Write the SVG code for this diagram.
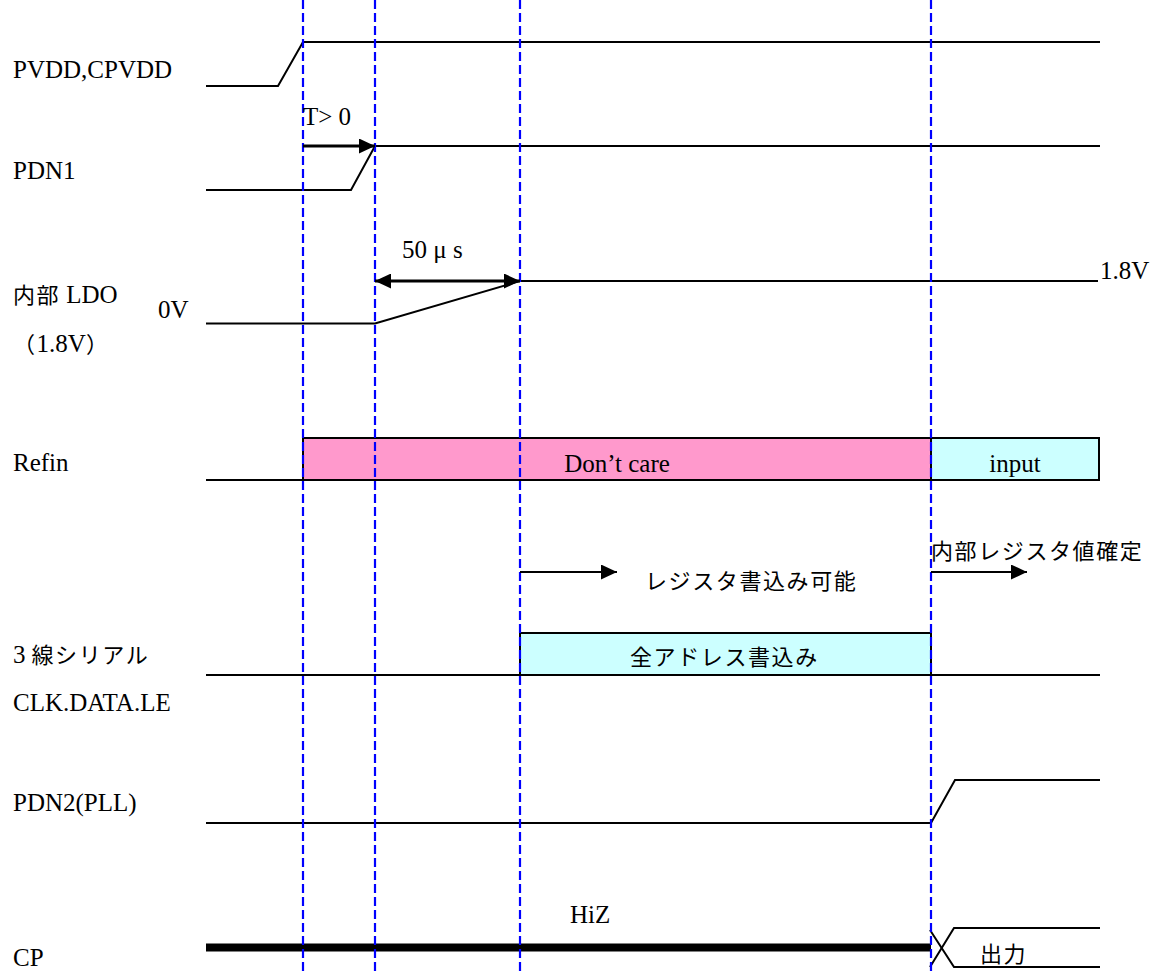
<svg xmlns="http://www.w3.org/2000/svg" width="1155" height="973" viewBox="0 0 1155 973">
<style>
.t{font-family:"Liberation Serif","Noto Sans CJK JP",serif;font-size:25px;fill:#000}
.j{font-family:"Noto Sans CJK JP",sans-serif;font-size:22px;letter-spacing:1.6px;fill:#000}
.w{fill:none;stroke:#000;stroke-width:2}
.a{fill:none;stroke:#000;stroke-width:3}
.g{fill:none;stroke:#0000ff;stroke-width:2.2;stroke-dasharray:9 4}
</style>
<defs>
<marker id="ah" markerWidth="16" markerHeight="15" refX="16" refY="7.5" orient="auto" markerUnits="userSpaceOnUse">
<path d="M0,0 L16,7.5 L0,15 Z" fill="#000"/>
</marker>
<marker id="as" markerWidth="16" markerHeight="15" refX="0" refY="7.5" orient="auto" markerUnits="userSpaceOnUse">
<path d="M16,0 L0,7.5 L16,15 Z" fill="#000"/>
</marker>
</defs>
<rect width="1155" height="973" fill="#fff"/>
<g id="pvdd">
<text class="t" x="13" y="78">PVDD,CPVDD</text>
<polyline class="w" points="206,86 278,86 303,42 1100,42"/>
</g>
<g id="pdn1">
<text class="t" x="13" y="179">PDN1</text>
<polyline class="w" points="206,190 351,190 375,146 1100,146"/>
</g>
<g id="ldo">
<text x="13" y="303"><tspan class="j">内部</tspan><tspan class="t" dx="6">LDO</tspan></text>
<text class="t" x="158" y="318">0V</text>
<text x="13" y="352"><tspan class="j" letter-spacing="0">（</tspan><tspan class="t">1.8V</tspan><tspan class="j" letter-spacing="0">）</tspan></text>
<polyline class="w" points="206,323.5 375,323.5 520,281 1098,281"/>
<text class="t" x="1100" y="279">1.8V</text>
</g>
<g id="refin">
<text class="t" x="13" y="471">Refin</text>
<line class="w" x1="206" y1="480" x2="303" y2="480"/>
<rect x="303" y="438" width="628" height="42" fill="#ff99cc" stroke="#000" stroke-width="2"/>
<text class="t" x="617" y="472" text-anchor="middle">Don’t care</text>
<rect x="931" y="438" width="168" height="42" fill="#ccffff" stroke="#000" stroke-width="2"/>
<text class="t" x="1015" y="472" text-anchor="middle">input</text>
</g>
<g id="serial">
<text x="13" y="663"><tspan class="t">3</tspan><tspan class="j" dx="6">線シリアル</tspan></text>
<text class="t" x="13" y="711">CLK.DATA.LE</text>
<line class="w" x1="206" y1="675" x2="1100" y2="675"/>
<rect x="520" y="633" width="411" height="42" fill="#ccffff" stroke="#000" stroke-width="2"/>
<text class="j" x="630" y="665">全アドレス書込み</text>
<text class="j" x="645" y="589">レジスタ書込み可能</text>
<text class="j" x="931" y="559">内部レジスタ値確定</text>
</g>
<g id="pdn2">
<text class="t" x="13" y="811">PDN2(PLL)</text>
<polyline class="w" points="206,823 931,823 955,780 1100,780"/>
</g>
<g id="cp">
<text class="t" x="13" y="966">CP</text>
<line x1="206" y1="947.5" x2="931" y2="947.5" stroke="#000" stroke-width="8"/>
<text class="t" x="570" y="923">HiZ</text>
<polyline class="w" points="930,930 954,967 1100,967"/>
<polyline class="w" points="930,967 954,928 1100,928"/>
<text class="j" x="980" y="962">出力</text>
</g>
<g id="connectors">
<line class="g" x1="303" y1="0" x2="303" y2="973"/>
<line class="g" x1="375" y1="0" x2="375" y2="973"/>
<line class="g" x1="520" y1="0" x2="520" y2="973"/>
<line class="g" x1="931" y1="0" x2="931" y2="973"/>
<line class="a" x1="303" y1="146" x2="375" y2="146" marker-end="url(#ah)"/>
<text class="t" x="303" y="125">T&gt; 0</text>
<line class="a" x1="375" y1="281" x2="520" y2="281" marker-start="url(#as)" marker-end="url(#ah)"/>
<text class="t" x="402" y="258">50 μ s</text>
<line class="w" x1="520" y1="572" x2="617" y2="572" marker-end="url(#ah)"/>
<line class="w" x1="931" y1="572" x2="1027" y2="572" marker-end="url(#ah)"/>
</g>
</svg>
